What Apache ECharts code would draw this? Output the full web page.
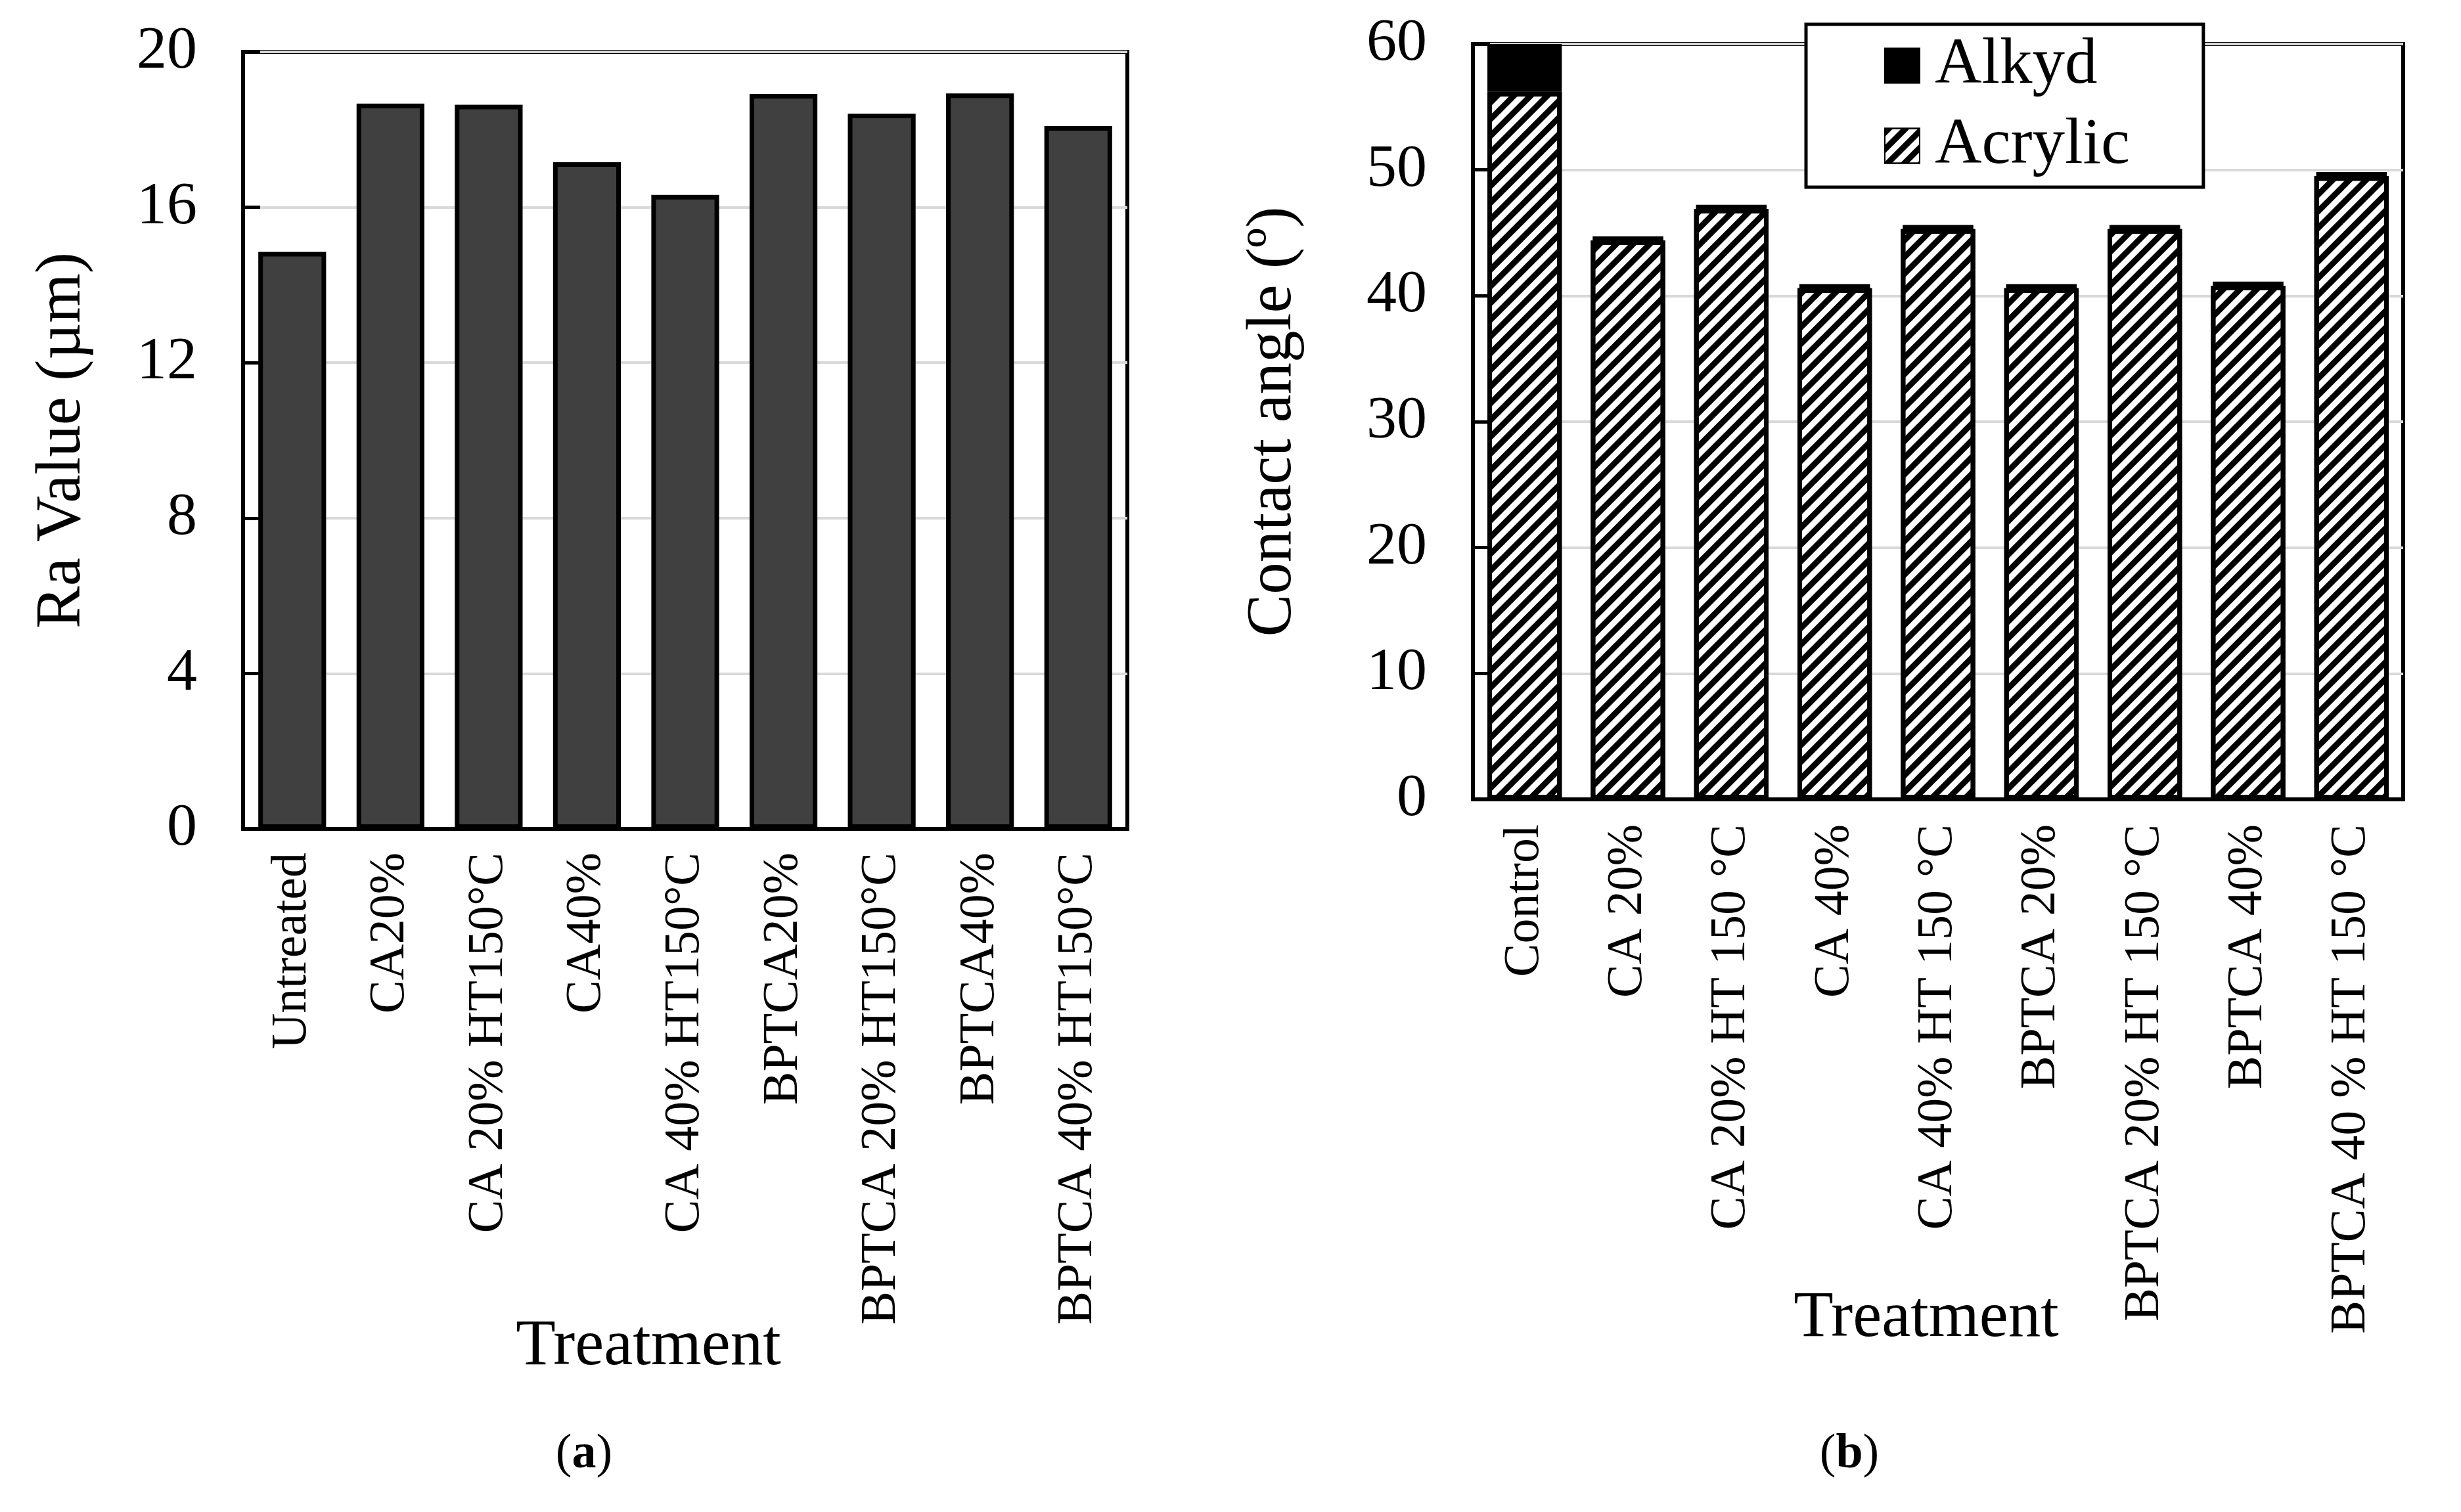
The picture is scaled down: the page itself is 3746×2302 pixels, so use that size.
<!DOCTYPE html>
<html>
<head>
<meta charset="utf-8">
<script src="https://cdn.jsdelivr.net/npm/echarts@6/dist/echarts.min.js"></script>
<style>html,body{margin:0;padding:0;background:#fff;}#c{width:3746px;height:2302px;}</style>
</head>
<body>
<div id="c"></div>
<script>
// ---- data ----
const catsA = ['Untreated','CA20%','CA 20% HT150°C','CA40%','CA 40% HT150°C','BPTCA20%','BPTCA 20% HT150°C','BPTCA40%','BPTCA 40% HT150°C'];
const raValues = [14.85, 18.67, 18.64, 17.16, 16.32, 18.92, 18.41, 18.93, 18.09];
const catsB = ['Control','CA 20%','CA 20% HT 150 °C','CA 40%','CA 40% HT 150 °C','BPTCA 20%','BPTCA 20% HT 150 °C','BPTCA 40%','BPTCA 40 % HT 150 °C'];
const acrylicValues = [56.2, 44.4, 46.9, 40.6, 45.3, 40.6, 45.3, 40.8, 49.5];
const alkydValues = [3.8, 0.3, 0.3, 0.3, 0.3, 0.3, 0.3, 0.3, 0.3];
const ticksA = {min: 0, max: 20, interval: 4};
const ticksB = {min: 0, max: 60, interval: 10};

const FONT = '"Liberation Serif", "Times New Roman", serif';
const chart = echarts.init(document.getElementById('c'), null, {renderer: 'canvas'});

const hatch = {
  symbol: 'rect', symbolSize: 1, color: '#000',
  dashArrayX: [1, 0], dashArrayY: [9, 9], rotation: -Math.PI / 4
};

function yAxis(gridIndex, t, name, gap) {
  return {
    type: 'value', gridIndex, min: t.min, max: t.max, interval: t.interval,
    name, nameLocation: 'middle', nameGap: gap,
    nameTextStyle: {fontFamily: FONT, fontSize: 97, color: '#000'},
    axisLine: {show: true, lineStyle: {color: '#000', width: 6}},
    axisTick: {show: true, inside: true, length: 26, lineStyle: {color: '#000', width: 5}},
    axisLabel: {fontFamily: FONT, fontSize: 92, color: '#000', margin: 70},
    splitLine: {show: true, lineStyle: {color: '#d9d9d9', width: 4}}
  };
}
function xAxis(gridIndex, cats, margin) {
  return {
    type: 'category', gridIndex, data: cats,
    axisLine: {show: true, onZero: false, lineStyle: {color: '#000', width: 6}},
    axisTick: {show: false},
    axisLabel: {fontFamily: FONT, fontSize: 76, color: '#000', rotate: 90, margin, interval: 0}
  };
}
const capStyle = {
  r: {fontFamily: FONT, fontSize: 74, fill: '#000'},
  b: {fontFamily: FONT, fontSize: 74, fontWeight: 'bold', fill: '#000'}
};

chart.setOption({
  animation: false,
  backgroundColor: '#fff',
  grid: [
    {left: 370, top: 79, width: 1346, height: 1183, show: true, borderColor: '#000', borderWidth: 6, containLabel: false},
    {left: 2242, top: 67, width: 1416, height: 1150, show: true, borderColor: '#000', borderWidth: 6, containLabel: false}
  ],
  xAxis: [xAxis(0, catsA, 36), xAxis(1, catsB, 38)],
  yAxis: [yAxis(0, ticksA, 'Ra Value (µm)', 226), yAxis(1, ticksB, 'Contact angle (º)', 255)],
  legend: {
    data: ['Alkyd', 'Acrylic'],
    orient: 'vertical', left: 2749, top: 37,
    backgroundColor: '#fff', borderColor: '#000', borderWidth: 5,
    padding: [8, 112, 8, 119],
    icon: 'rect',
    itemWidth: 53, itemHeight: 53, itemGap: 12,
    textStyle: {fontFamily: FONT, fontSize: 99, color: '#000', lineHeight: 110, padding: [0, 0, 0, 18]}
  },
  series: [
    {
      type: 'bar', xAxisIndex: 0, yAxisIndex: 0, data: raValues,
      barCategoryGap: '31%',
      itemStyle: {color: '#404040', borderColor: '#000', borderWidth: 7}
    },
    {
      name: 'Acrylic', type: 'bar', stack: 'b', xAxisIndex: 1, yAxisIndex: 1, data: acrylicValues,
      barCategoryGap: '28%',
      itemStyle: {color: '#fff', borderColor: '#000', borderWidth: 7, decal: hatch}
    },
    {
      name: 'Alkyd', type: 'bar', stack: 'b', xAxisIndex: 1, yAxisIndex: 1, data: alkydValues,
      barCategoryGap: '28%',
      itemStyle: {color: '#000', borderColor: '#000', borderWidth: 7}
    }
  ],
  graphic: [
    {type: 'text', x: 987, y: 2051, style: {text: 'Treatment', font: '99px ' + FONT, fill: '#000', align: 'center', verticalAlign: 'middle'}},
    {type: 'text', x: 2932, y: 2008, style: {text: 'Treatment', font: '99px ' + FONT, fill: '#000', align: 'center', verticalAlign: 'middle'}},
    {type: 'text', x: 889, y: 2215, style: {text: '{r|(}{b|a}{r|)}', align: 'center', verticalAlign: 'middle', rich: capStyle}},
    {type: 'text', x: 2815, y: 2215, style: {text: '{r|(}{b|b}{r|)}', align: 'center', verticalAlign: 'middle', rich: capStyle}}
  ]
});
</script>
</body>
</html>
